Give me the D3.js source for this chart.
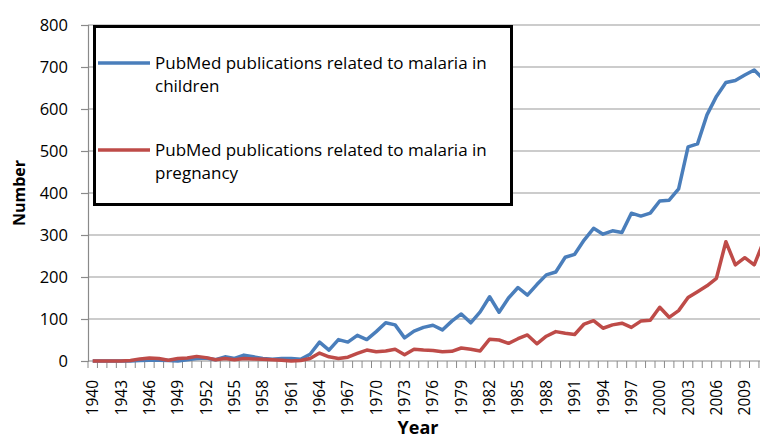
<!DOCTYPE html>
<html>
<head>
<meta charset="utf-8">
<script src="https://cdn.jsdelivr.net/npm/d3@7"></script>
<style>
  body { margin: 0; background: #fff; }
  svg { display: block; }
  text { font-family: "Open Sans", "DejaVu Sans", sans-serif; fill: #000; }
</style>
</head>
<body>
<svg id="chart" width="760" height="440"></svg>
<script>
const years = d3.range(1940, 2012);
const children = [
  0, 0, 0, 0, 0, 1, 2, 2, 1, 0,
  3, 6, 7, 3, 10, 6, 14, 10, 6, 4,
  6, 6, 4, 16, 45, 26, 51, 45, 61, 51,
  70, 91, 86, 55, 71, 80, 85, 74, 95, 112,
  91, 117, 153, 116, 150, 175, 157, 182, 205, 212,
  247, 254, 288, 316, 302, 310, 306, 352, 345, 352,
  381, 383, 410, 510, 517, 586, 630, 663, 668, 681,
  693, 670
];
const pregnancy = [
  0, 0, 0, 0, 1, 5, 7, 6, 2, 6,
  7, 11, 8, 3, 6, 3, 6, 5, 4, 3,
  2, 0, 1, 6, 19, 10, 6, 9, 18, 26,
  22, 24, 28, 15, 28, 26, 25, 22, 23, 31,
  28, 24, 52, 50, 42, 53, 62, 41, 59, 70,
  66, 63, 88, 96, 78, 86, 90, 80, 95, 97,
  128, 104, 120, 151, 165, 179, 197, 284, 229, 246,
  229, 285
];
const yTicks = [0, 100, 200, 300, 400, 500, 600, 700, 800];
const xLabelYears = d3.range(1940, 2012, 3);
const legendLabels = [
  ["PubMed publications related to malaria in", "children"],
  ["PubMed publications related to malaria in", "pregnancy"]
];
const colors = ["#4a7ebb", "#be4b48"];

(function () {
const svg = d3.select("#chart");
const mLeft = 88, mTop = 25, mBottom = 361;
const x = d3.scaleBand().domain(years).range([mLeft, mLeft + years.length * 9.45]).padding(0);
const y = d3.scaleLinear().domain([0, 800]).range([mBottom, mTop]);
const cx = d => x(d) + x.bandwidth() / 2;

// gridlines
svg.append("g")
  .selectAll("line").data(yTicks.filter(d => d > 0)).join("line")
  .attr("x1", mLeft).attr("x2", 760)
  .attr("y1", d => y(d)).attr("y2", d => y(d))
  .attr("stroke", "#9a9a9a").attr("stroke-width", 1.2);

// y axis
const yAxis = svg.append("g").attr("transform", `translate(${mLeft},0)`)
  .call(d3.axisLeft(y).tickValues(yTicks).tickSize(7).tickPadding(13));
yAxis.select(".domain").attr("stroke", "#8a8a8a").attr("stroke-width", 1.2);
yAxis.selectAll(".tick line").attr("stroke", "#8a8a8a").attr("stroke-width", 1.2);
yAxis.selectAll(".tick text").style("font-size", "16.5px").style("font-family", "Open Sans");

// x axis line and tick marks at band edges
svg.append("line").attr("x1", mLeft).attr("x2", 760).attr("y1", mBottom).attr("y2", mBottom)
  .attr("stroke", "#8a8a8a").attr("stroke-width", 1.2);
svg.append("g").selectAll("line").data(years).join("line")
  .attr("x1", d => x(d)).attr("x2", d => x(d))
  .attr("y1", mBottom).attr("y2", mBottom + 7)
  .attr("stroke", "#8a8a8a").attr("stroke-width", 1);

// x labels
svg.append("g").selectAll("text").data(xLabelYears).join("text")
  .attr("transform", d => `translate(${cx(d) + 5.5},${mBottom + 19}) rotate(-90)`)
  .attr("text-anchor", "end")
  .style("font-size", "15.5px")
  .text(d => d);

// lines
const series = [children, pregnancy];
const line = d3.line().x((d, i) => cx(years[i])).y(d => y(d));
series.forEach((s, k) => {
  svg.append("path").datum(s)
    .attr("fill", "none").attr("stroke", colors[k])
    .attr("stroke-width", 3.5).attr("stroke-linejoin", "round")
    .attr("d", line);
});

// axis titles
svg.append("text").attr("transform", "translate(25,193) rotate(-90)")
  .attr("text-anchor", "middle").style("font-size", "16px").style("font-weight", "bold")
  .text("Number");
svg.append("text").attr("x", 418).attr("y", 434)
  .attr("text-anchor", "middle").style("font-size", "18px").style("font-weight", "bold")
  .text("Year");

// legend
svg.append("rect").attr("x", 94.5).attr("y", 26.5).attr("width", 417).attr("height", 178)
  .attr("fill", "#fff").attr("stroke", "#000").attr("stroke-width", 3);
const legY = [63, 150];
legendLabels.forEach((lab, k) => {
  svg.append("line").attr("x1", 98).attr("x2", 150).attr("y1", legY[k]).attr("y2", legY[k])
    .attr("stroke", colors[k]).attr("stroke-width", 3.5);
  lab.forEach((t, j) => {
    svg.append("text").attr("x", 155).attr("y", legY[k] + 6 + j * 23)
      .style("font-size", "17px").text(t);
  });
});
})();
</script>
</body>
</html>
